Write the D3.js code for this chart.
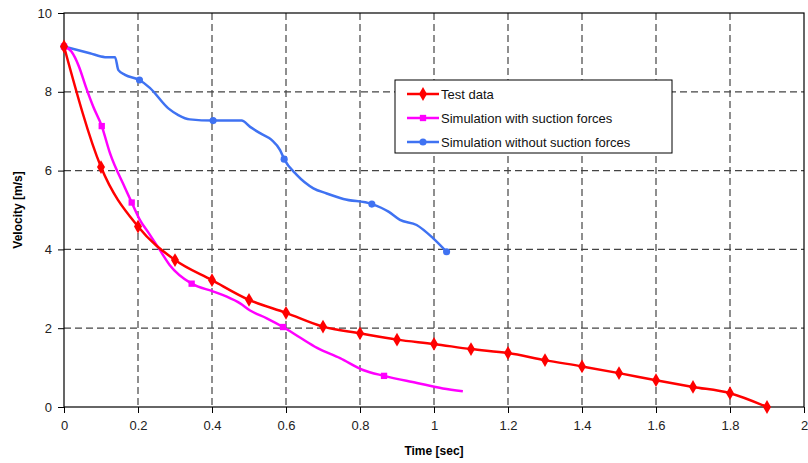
<!DOCTYPE html>
<html>
<head>
<meta charset="utf-8">
<script src="https://cdn.jsdelivr.net/npm/d3@7/dist/d3.min.js"></script>
<style>
  body { margin: 0; background: #fff; }
  svg { display: block; font-family: "Liberation Sans", Arial, sans-serif; }
  .grid line { stroke: #444; stroke-dasharray: 7,4; stroke-width: 1.2; }
  .axis text { font-size: 13px; fill: #222; }
  .axis path, .axis line { stroke: #000; }
</style>
</head>
<body>
<script>
// time [sec], velocity [m/s]
var testTime = [0, 0.1, 0.2, 0.3, 0.4, 0.5, 0.6, 0.7, 0.8, 0.9, 1.0, 1.1, 1.2, 1.3, 1.4, 1.5, 1.6, 1.7, 1.8, 1.9];
var testVel  = [9.15, 6.09, 4.58, 3.73, 3.22, 2.72, 2.39, 2.04, 1.87, 1.71, 1.6, 1.47, 1.37, 1.19, 1.03, 0.86, 0.68, 0.51, 0.35, 0.0];

var suctionTime = [0, 0.02, 0.04, 0.06, 0.08, 0.102, 0.124, 0.165, 0.183, 0.205, 0.23, 0.258, 0.286, 0.345, 0.404, 0.44, 0.476, 0.503, 0.548, 0.592, 0.64, 0.684, 0.746, 0.808, 0.865, 0.954, 1.024, 1.078];
var suctionVel  = [9.15, 9.02, 8.65, 8.1, 7.6, 7.13, 6.45, 5.56, 5.19, 4.75, 4.4, 4.0, 3.6, 3.13, 2.93, 2.8, 2.63, 2.45, 2.25, 2.03, 1.75, 1.5, 1.24, 0.94, 0.79, 0.61, 0.47, 0.4];
var suctionMarkTime = [0, 0.102, 0.183, 0.345, 0.592, 0.865];
var suctionMarkVel  = [9.15, 7.13, 5.19, 3.13, 2.03, 0.79];

var noSuctionTime = [0, 0.07, 0.111, 0.138, 0.147, 0.165, 0.204, 0.232, 0.282, 0.309, 0.34, 0.403, 0.48, 0.503, 0.53, 0.561, 0.584, 0.595, 0.629, 0.674, 0.71, 0.755, 0.832, 0.877, 0.908, 0.953, 0.998, 1.034];
var noSuctionVel  = [9.15, 8.98, 8.88, 8.88, 8.55, 8.43, 8.3, 8.1, 7.58, 7.41, 7.3, 7.27, 7.27, 7.11, 6.95, 6.78, 6.52, 6.29, 5.89, 5.55, 5.42, 5.28, 5.15, 4.96, 4.75, 4.62, 4.28, 3.94];
var noSuctionMarkTime = [0, 0.204, 0.403, 0.595, 0.832, 1.034];
var noSuctionMarkVel  = [9.15, 8.3, 7.27, 6.29, 5.15, 3.94];

var xTicks = [0, 0.2, 0.4, 0.6, 0.8, 1, 1.2, 1.4, 1.6, 1.8, 2];
var yTicks = [0, 2, 4, 6, 8, 10];

var legendNames = ["Test data", "Simulation with suction forces", "Simulation without suction forces"];

const WIDTH = 808;
const HEIGHT = 463;
const LEFT = 64, TOP = 13, RIGHT = 804, BOTTOM = 407;

var xScale = d3.scaleLinear().domain([0, 2]).range([LEFT, RIGHT]);
var yScale = d3.scaleLinear().domain([0, 10]).range([BOTTOM, TOP]);

var zip = function(xs, ys) {
  return xs.map(function(x, i) { return {x: x, y: ys[i]}; });
};

var series = [
  {name: legendNames[2], color: "#3f72f2", line: zip(noSuctionTime, noSuctionVel), marks: zip(noSuctionMarkTime, noSuctionMarkVel), symbol: d3.symbolCircle, size: 40},
  {name: legendNames[1], color: "#ff00ff", line: zip(suctionTime, suctionVel), marks: zip(suctionMarkTime, suctionMarkVel), symbol: d3.symbolSquare, size: 40},
  {name: legendNames[0], color: "#ff0000", line: zip(testTime, testVel), marks: zip(testTime, testVel), symbol: d3.symbolDiamond, size: 55}
];

var svg = d3.select("body").append("svg")
  .attr("width", WIDTH)
  .attr("height", HEIGHT);

// grid
var grid = svg.append("g").attr("class", "grid");
grid.selectAll(".vg").data(xTicks.slice(1, -1)).enter().append("line")
  .attr("x1", function(d) { return xScale(d); })
  .attr("x2", function(d) { return xScale(d); })
  .attr("y1", TOP).attr("y2", BOTTOM);
grid.selectAll(".hg").data(yTicks.slice(1, -1)).enter().append("line")
  .attr("y1", function(d) { return yScale(d); })
  .attr("y2", function(d) { return yScale(d); })
  .attr("x1", LEFT).attr("x2", RIGHT);

// frame
svg.append("rect")
  .attr("x", LEFT).attr("y", TOP)
  .attr("width", RIGHT - LEFT).attr("height", BOTTOM - TOP)
  .attr("fill", "none").attr("stroke", "#000").attr("stroke-width", 1.2);

var xAxis = d3.axisBottom(xScale).tickValues(xTicks).tickSize(6).tickPadding(8)
  .tickFormat(function(d) { return d3.format("")(d); });
var yAxis = d3.axisLeft(yScale).tickValues(yTicks).tickSize(6).tickPadding(6);

svg.append("g").attr("class", "axis")
  .attr("transform", "translate(0," + BOTTOM + ")")
  .call(xAxis)
  .call(function(g) { g.select(".domain").remove(); });

svg.append("g").attr("class", "axis")
  .attr("transform", "translate(" + LEFT + ",0)")
  .call(yAxis)
  .call(function(g) { g.select(".domain").remove(); });

// axis titles
svg.append("text")
  .attr("x", (LEFT + RIGHT) / 2)
  .attr("y", 455)
  .attr("text-anchor", "middle")
  .attr("font-size", 12)
  .attr("font-weight", "bold")
  .text("Time [sec]");

svg.append("text")
  .attr("transform", "translate(22," + (TOP + BOTTOM) / 2 + ") rotate(-90)")
  .attr("text-anchor", "middle")
  .attr("font-size", 12)
  .attr("font-weight", "bold")
  .text("Velocity [m/s]");

// lines
var line = d3.line()
  .x(function(d) { return xScale(d.x); })
  .y(function(d) { return yScale(d.y); })
  .curve(d3.curveMonotoneX);

series.forEach(function(s) {
  var g = svg.append("g");
  g.append("path")
    .attr("d", line(s.line))
    .attr("fill", "none")
    .attr("stroke", s.color)
    .attr("stroke-width", 2.5)
    .attr("stroke-linejoin", "round");
  g.selectAll("path.mark").data(s.marks).enter().append("path")
    .attr("class", "mark")
    .attr("d", d3.symbol().type(s.symbol).size(s.size))
    .attr("transform", function(d) { return "translate(" + xScale(d.x) + "," + yScale(d.y) + ")"; })
    .attr("fill", s.color);
});

// legend
var legend = svg.append("g");
legend.append("rect")
  .attr("x", 395).attr("y", 80)
  .attr("width", 277).attr("height", 73)
  .attr("fill", "#fff").attr("stroke", "#000").attr("stroke-width", 1);

var legendItems = series.slice().reverse();
legendItems.forEach(function(s, i) {
  var y = 94 + i * 24;
  legend.append("line")
    .attr("x1", 407).attr("x2", 439)
    .attr("y1", y).attr("y2", y)
    .attr("stroke", s.color).attr("stroke-width", 2.5);
  legend.append("path")
    .attr("d", d3.symbol().type(s.symbol).size(s.size))
    .attr("transform", "translate(423," + y + ")")
    .attr("fill", s.color);
  legend.append("text")
    .attr("x", 441).attr("y", y + 4.5)
    .attr("font-size", 13)
    .attr("fill", "#111")
    .text(s.name);
});
</script>
</body>
</html>
